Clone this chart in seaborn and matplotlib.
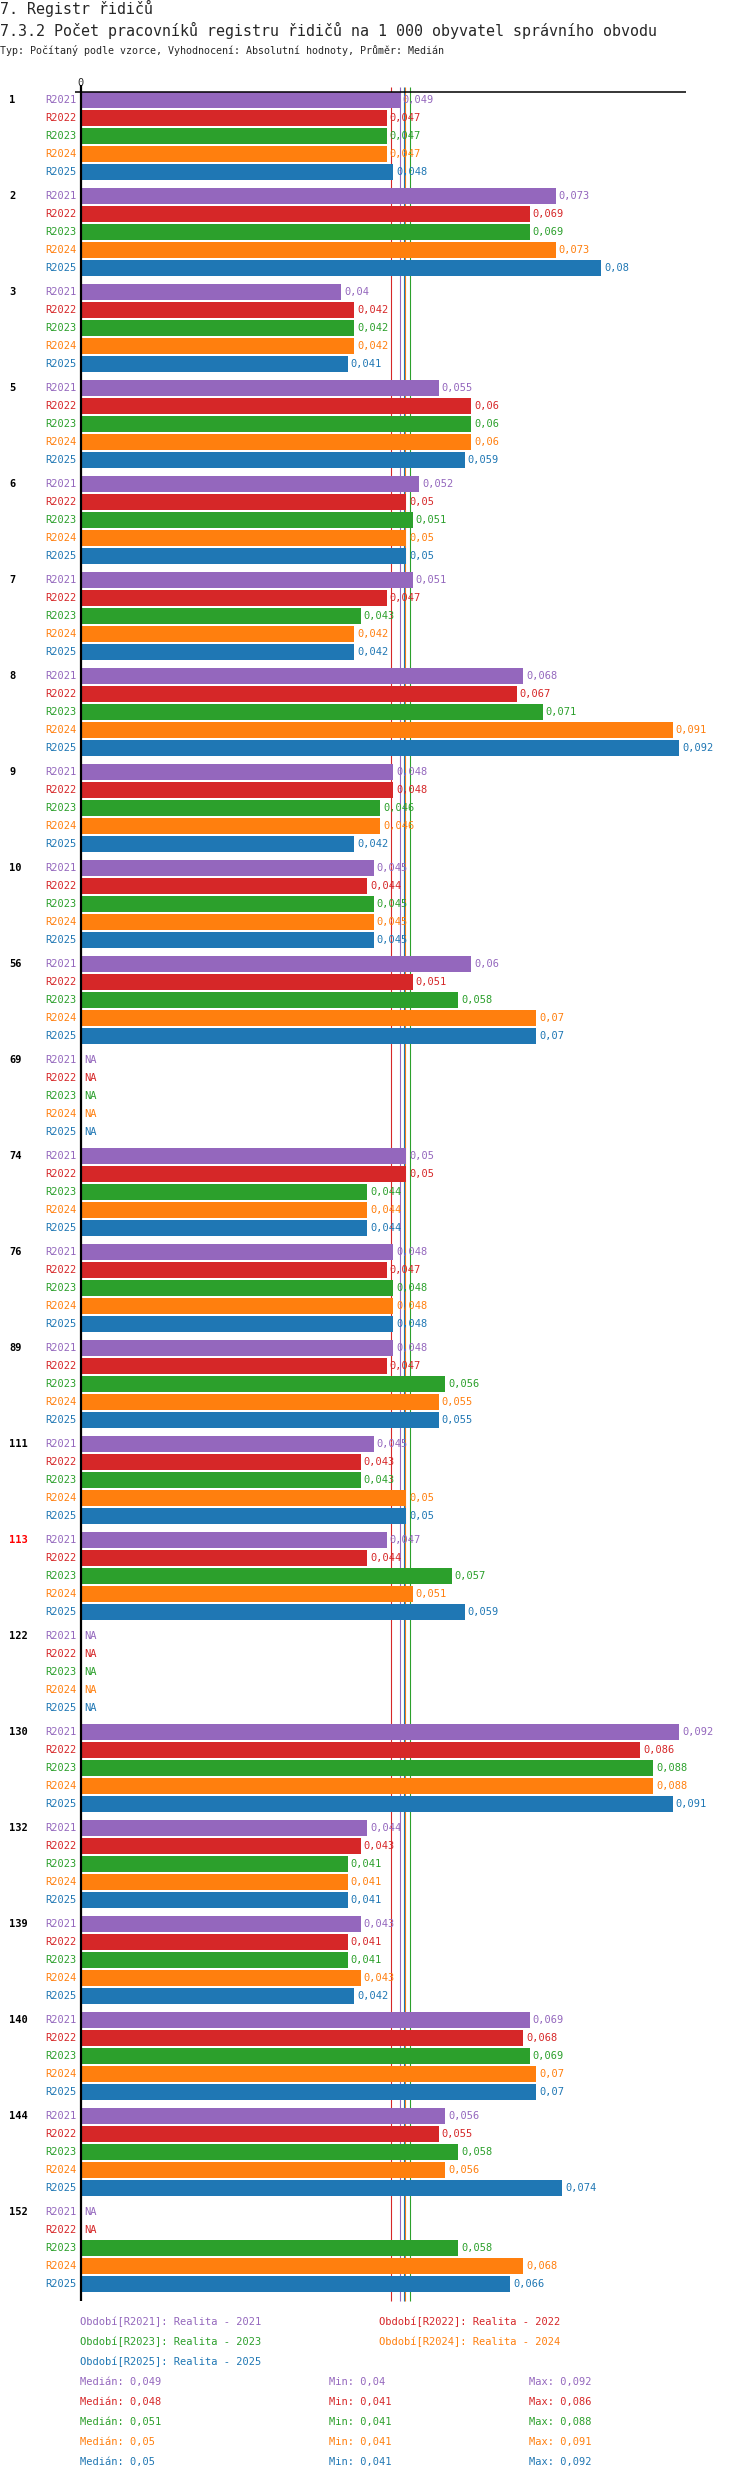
import numpy as np
import pandas as pd
import seaborn as sns
import matplotlib.pyplot as plt
import matplotlib.transforms as mtransforms

# --- data ---
groups = ['1', '2', '3', '5', '6', '7', '8', '9', '10', '56', '69', '74', '76', '89',
          '111', '113', '122', '130', '132', '139', '140', '144', '152']
highlight = '113'
periods = ['R2021', 'R2022', 'R2023', 'R2024', 'R2025']
period_names = ['Realita - 2021', 'Realita - 2022', 'Realita - 2023',
                'Realita - 2024', 'Realita - 2025']
colors = ['#9467bd', '#d62728', '#2ca02c', '#ff7f0e', '#1f77b4']

NA = np.nan
r2021 = [0.049, 0.073, 0.04, 0.055, 0.052, 0.051, 0.068, 0.048, 0.045, 0.06, NA, 0.05,
         0.048, 0.048, 0.045, 0.047, NA, 0.092, 0.044, 0.043, 0.069, 0.056, NA]
r2022 = [0.047, 0.069, 0.042, 0.06, 0.05, 0.047, 0.067, 0.048, 0.044, 0.051, NA, 0.05,
         0.047, 0.047, 0.043, 0.044, NA, 0.086, 0.043, 0.041, 0.068, 0.055, NA]
r2023 = [0.047, 0.069, 0.042, 0.06, 0.051, 0.043, 0.071, 0.046, 0.045, 0.058, NA, 0.044,
         0.048, 0.056, 0.043, 0.057, NA, 0.088, 0.041, 0.041, 0.069, 0.058, 0.058]
r2024 = [0.047, 0.073, 0.042, 0.06, 0.05, 0.042, 0.091, 0.046, 0.045, 0.07, NA, 0.044,
         0.048, 0.055, 0.05, 0.051, NA, 0.088, 0.041, 0.043, 0.07, 0.056, 0.068]
r2025 = [0.048, 0.08, 0.041, 0.059, 0.05, 0.042, 0.092, 0.042, 0.045, 0.07, NA, 0.044,
         0.048, 0.055, 0.05, 0.059, NA, 0.091, 0.041, 0.042, 0.07, 0.074, 0.066]
series = [r2021, r2022, r2023, r2024, r2025]

medians = [0.049, 0.0477, 0.0506, 0.0499, 0.0497]
mins = [0.04, 0.041, 0.041, 0.041, 0.041]
maxs = [0.092, 0.086, 0.088, 0.091, 0.092]

# --- layout in pixels ---
W, H = 750, 2480
top_px, bottom_px = 92, 2301
zero_px, right_px = 81, 686
row_px, bar_px, group_px = 18, 16, 96
px_per_unit = 6500


def fmt(v):
    return f'{v:.3f}'.rstrip('0').replace('.', ',')


sns.set_style('white')
plt.rcParams['font.family'] = ['DejaVu Sans Mono', 'DejaVu Sans']

rows = []
for g, name in enumerate(groups):
    for s, per in enumerate(periods):
        pos = top_px + g * group_px + s * row_px + bar_px / 2
        rows.append({'group': name, 'period': per, 'value': series[s][g], 'pos': pos})
df = pd.DataFrame(rows)

fig = plt.figure(figsize=(W / 100, H / 100), dpi=100)
ax = fig.add_axes([zero_px / W, 1 - bottom_px / H,
                   (right_px - zero_px) / W, (bottom_px - top_px) / H])

sns.barplot(data=df.dropna(), x='value', y='pos', hue='period', hue_order=periods,
            palette=colors, orient='h', native_scale=True, dodge=False,
            width=bar_px / row_px, errorbar=None, saturation=1, linewidth=0,
            legend=False, ax=ax)
for p in ax.patches:
    p.set_zorder(2)

ax.set_xlim(0, (right_px - zero_px) / px_per_unit)
ax.set_ylim(bottom_px, top_px)
for sp in ax.spines.values():
    sp.set_visible(False)
ax.set_xlabel('')
ax.set_ylabel('')
ax.set_yticks([])
ax.xaxis.tick_top()
ax.set_xticks([0])
ax.set_xticklabels(['0'])
ax.tick_params(axis='x', length=0, pad=3, labelsize=7.5)

# median lines behind the bars
ax.vlines(medians, top_px - 5, bottom_px, colors=colors, linewidth=0.8,
          zorder=1, clip_on=False)
# zero line and top axis line
ax.vlines(0, top_px - 7, bottom_px, colors='black', linewidth=1.6, zorder=4, clip_on=False)
ax.hlines(top_px, -6 / px_per_unit, (right_px - zero_px) / px_per_unit,
          colors='black', linewidth=1.1, zorder=4, clip_on=False)

# pixel based transforms for texts
px = mtransforms.Affine2D().scale(1 / W, -1 / H).translate(0, 1) + fig.transFigure
px_data = mtransforms.blended_transform_factory(px, ax.transData)

fs = 7.5
for g, name in enumerate(groups):
    sub = df[df['group'] == name]
    first = sub['pos'].iloc[0]
    ax.text(9, first, name, transform=px_data, ha='left', va='center', fontsize=fs,
            fontweight='bold', color='#ff0000' if name == highlight else 'black')
    for s, (_, r) in enumerate(sub.iterrows()):
        ax.text(77, r['pos'], r['period'], transform=px_data, ha='right', va='center',
                fontsize=fs, color=colors[s])
        v = r['value']
        label = 'NA' if np.isnan(v) else fmt(v)
        ax.annotate(label, xy=(0 if np.isnan(v) else v, r['pos']), xytext=(3, 0),
                    textcoords='offset pixels', ha='left', va='center',
                    fontsize=fs, color=colors[s], zorder=5)

# titles
fig.text(0, 8, '7. Registr řidičů', transform=px, ha='left', va='center', fontsize=10.8)
fig.text(0, 30, '7.3.2 Počet pracovníků registru řidičů na 1 000 obyvatel správního obvodu',
         transform=px, ha='left', va='center', fontsize=10.8)
fig.text(0, 51, 'Typ: Počítaný podle vzorce, Vyhodnocení: Absolutní hodnoty, Průměr: Medián',
         transform=px, ha='left', va='center', fontsize=7.2)

# legend of periods
for s, per in enumerate(periods):
    x = 80 if s % 2 == 0 else 379
    y = 2322 + (s // 2) * 20
    fig.text(x, y, f'Období[{per}]: {period_names[s]}', transform=px,
             ha='left', va='center', fontsize=fs, color=colors[s])

# statistics
for s in range(len(periods)):
    y = 2382 + s * 20
    fig.text(80, y, f'Medián: {fmt(medians[s])}', transform=px, ha='left', va='center',
             fontsize=fs, color=colors[s])
    fig.text(329, y, f'Min: {fmt(mins[s])}', transform=px, ha='left', va='center',
             fontsize=fs, color=colors[s])
    fig.text(529, y, f'Max: {fmt(maxs[s])}', transform=px, ha='left', va='center',
             fontsize=fs, color=colors[s])

fig.savefig('out.png', dpi=100, facecolor='white')
